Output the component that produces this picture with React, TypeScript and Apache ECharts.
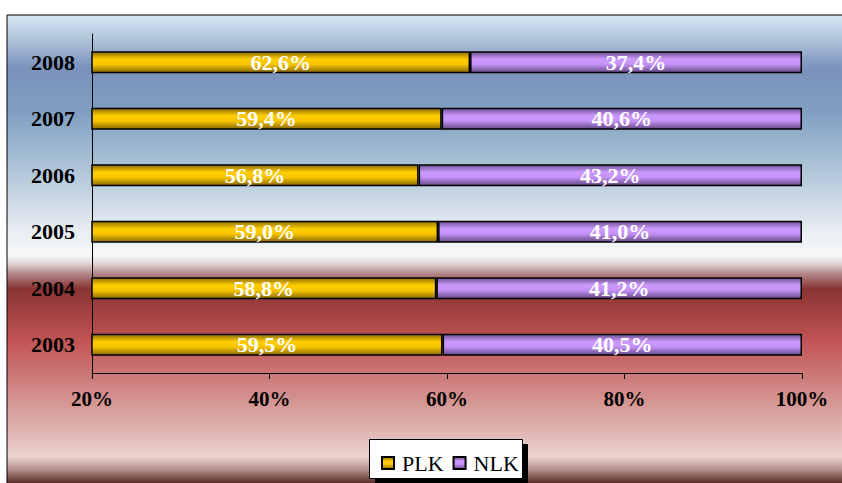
import React, { useEffect, useRef } from "react";
import * as echarts from "echarts";

const years = ["2003", "2004", "2005", "2006", "2007", "2008"];
const plk = [59.5, 58.8, 59.0, 56.8, 59.4, 62.6];
const nlk = [40.5, 41.2, 41.0, 43.2, 40.6, 37.4];
const xTicks = [20, 40, 60, 80, 100];

const serif = "'Liberation Serif', 'Times New Roman', serif";

const fmt = (v: number) => v.toFixed(1).replace(".", ",") + "%";

export default function App() {
  const ref = useRef<HTMLDivElement>(null);
  useEffect(() => {
    const chart = echarts.init(ref.current!, null, { renderer: "svg" });
    const gold = new echarts.graphic.LinearGradient(0, 0, 0, 1, [
      { offset: 0, color: "#8f6f00" },
      { offset: 0.35, color: "#ffcc00" },
      { offset: 0.6, color: "#f8c600" },
      { offset: 1, color: "#8a6a00" },
    ]);
    const violet = new echarts.graphic.LinearGradient(0, 0, 0, 1, [
      { offset: 0, color: "#6e5290" },
      { offset: 0.35, color: "#cc99ff" },
      { offset: 0.6, color: "#c592f8" },
      { offset: 1, color: "#654a85" },
    ]);
    const bg = new echarts.graphic.LinearGradient(0, 0, 0, 1, [
      { offset: 0, color: "#d9e7f2" },
      { offset: 0.052, color: "#aec3d9" },
      { offset: 0.11, color: "#7b92bc" },
      { offset: 0.2, color: "#7f9fc1" },
      { offset: 0.31, color: "#aac1d5" },
      { offset: 0.385, color: "#cbd9e5" },
      { offset: 0.455, color: "#eaeff3" },
      { offset: 0.5, color: "#f6f7f8" },
      { offset: 0.515, color: "#e8dede" },
      { offset: 0.54, color: "#b08484" },
      { offset: 0.57, color: "#8a3434" },
      { offset: 0.6, color: "#9a3c3c" },
      { offset: 0.68, color: "#c25555" },
      { offset: 0.8, color: "#d39290" },
      { offset: 0.88, color: "#e2bcb8" },
      { offset: 0.92, color: "#ebd4d0" },
      { offset: 0.945, color: "#b89690" },
      { offset: 0.975, color: "#5a2e2a" },
      { offset: 1, color: "#4a2420" },
    ]);
    const labelStyle = {
      show: true,
      position: "inside",
      color: "#ffffff",
      fontFamily: serif,
      fontWeight: "bold",
      fontSize: 22,
      formatter: (p: any) => fmt(p.value),
    };
    chart.setOption({
      animation: false,
      graphic: [
        {
          type: "rect",
          z: -10,
          shape: { x: 7, y: 15, width: 850, height: 480 },
          style: { fill: bg, stroke: "#000", lineWidth: 1 },
        },
        {
          type: "rect",
          z: -5,
          shape: { x: 375, y: 444, width: 153, height: 40 },
          style: { fill: "#000" },
        },
        {
          type: "rect",
          z: -4,
          shape: { x: 369.5, y: 439.5, width: 153, height: 39 },
          style: { fill: "#fff", stroke: "#000", lineWidth: 1 },
        },
      ],
      grid: { left: 92, right: 40, top: 34, bottom: 110 },
      legend: {
        left: 376,
        top: 447,
        icon: "rect",
        itemWidth: 12,
        itemHeight: 12,
        itemGap: 9,
        textStyle: {
          fontFamily: serif,
          fontSize: 22,
          color: "#000",
          padding: [0, 0, 0, 3],
        },
        data: ["PLK", "NLK"],
      },
      xAxis: {
        type: "value",
        min: 20,
        max: 100,
        interval: 20,
        axisLine: { show: true, lineStyle: { color: "#000", width: 1 } },
        axisTick: { show: true, length: 6, lineStyle: { color: "#000" } },
        splitLine: { show: false },
        axisLabel: {
          color: "#000",
          fontFamily: serif,
          fontWeight: "bold",
          fontSize: 21,
          margin: 15,
          formatter: (v: number) => (xTicks.includes(v) ? v + "%" : ""),
        },
      },
      yAxis: {
        type: "category",
        data: years,
        axisLine: { show: true, lineStyle: { color: "#000", width: 1 } },
        axisTick: { show: false },
        axisLabel: {
          color: "#000",
          fontFamily: serif,
          fontWeight: "bold",
          fontSize: 22,
          margin: 17,
        },
      },
      series: [
        {
          name: "PLK",
          type: "bar",
          stack: "t",
          barWidth: 22,
          data: plk,
          itemStyle: { color: gold, borderColor: "#000", borderWidth: 1.5 },
          label: labelStyle,
        },
        {
          name: "NLK",
          type: "bar",
          stack: "t",
          barWidth: 22,
          data: nlk,
          itemStyle: { color: violet, borderColor: "#000", borderWidth: 1.5 },
          label: labelStyle,
        },
      ],
    });
    return () => chart.dispose();
  }, []);
  return (
    <div
      ref={ref}
      style={{ position: "absolute", left: 0, top: 0, width: 842, height: 483 }}
    />
  );
}
